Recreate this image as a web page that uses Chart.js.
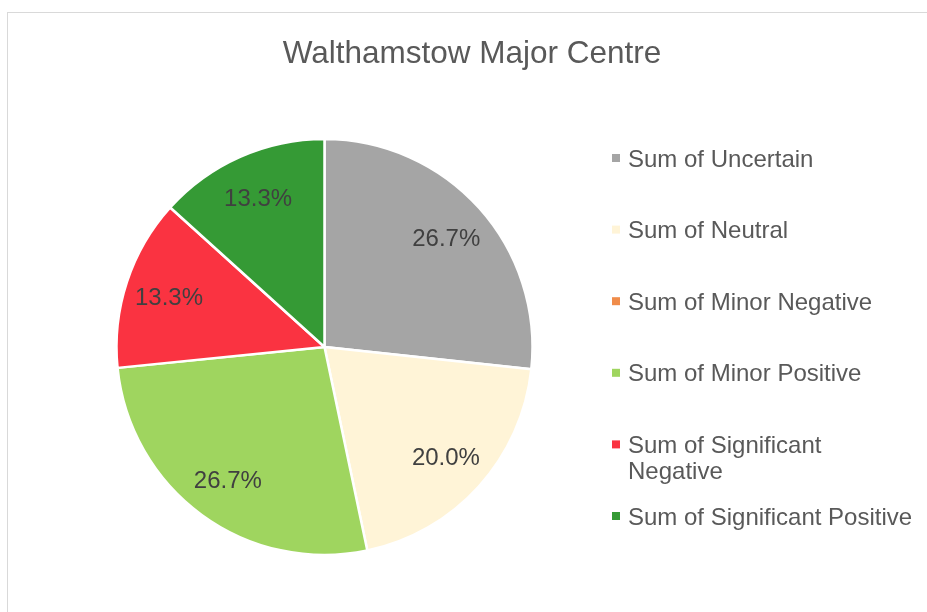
<!DOCTYPE html>
<html>
<head>
<meta charset="utf-8">
<script src="https://cdn.jsdelivr.net/npm/chart.js@4.4.1/dist/chart.umd.min.js"></script>
<style>
  html, body { margin: 0; padding: 0; background: #fff; overflow: hidden; }
  body { width: 927px; height: 612px; position: relative; }
  #marco { position: absolute; left: 7px; top: 12px; width: 960px; height: 640px; border: 1px solid #d9d9d9; box-sizing: border-box; }
  #grafico { position: absolute; left: 0; top: 0; }
</style>
</head>
<body>
<div id="marco"></div>
<canvas id="grafico" width="945" height="612"></canvas>
<script>
// --- Datos ---
const titulo = "Walthamstow Major Centre";
const categorias = [
  "Sum of Uncertain",
  "Sum of Neutral",
  "Sum of Minor Negative",
  "Sum of Minor Positive",
  "Sum of Significant Negative",
  "Sum of Significant Positive"
];
const valores = [26.7, 20.0, 0, 26.7, 13.3, 13.3];
const colores = ["#a5a5a5", "#fff4d7", "#f08c4a", "#9fd55f", "#fa3341", "#359a35"];

const FUENTE = "'Liberation Sans', Arial, sans-serif";

// titulo dibujado a mano, centrado sobre el marco
const pluginTitulo = {
  id: "tituloExcel",
  afterDraw(chart) {
    const ctx = chart.ctx;
    ctx.save();
    ctx.font = `31.5px ${FUENTE}`;
    ctx.fillStyle = "#595959";
    ctx.textAlign = "center";
    ctx.textBaseline = "alphabetic";
    ctx.fillText(titulo, 472, 63);
    ctx.restore();
  }
};

// etiquetas de porcentaje dentro de cada sector
const pluginPorcentajes = {
  id: "porcentajes",
  afterDatasetsDraw(chart) {
    const ctx = chart.ctx;
    const meta = chart.getDatasetMeta(0);
    const total = valores.reduce((a, b) => a + b, 0);
    ctx.save();
    ctx.font = `24px ${FUENTE}`;
    ctx.fillStyle = "#404040";
    ctx.textAlign = "center";
    ctx.textBaseline = "middle";
    meta.data.forEach((arc, i) => {
      if (!valores[i]) return;
      const p = arc.getProps(["x", "y", "startAngle", "endAngle", "outerRadius"], true);
      const medio = (p.startAngle + p.endAngle) / 2;
      const r = p.outerRadius * 0.787;
      const texto = (valores[i] / total * 100).toFixed(1) + "%";
      ctx.fillText(texto, p.x + Math.cos(medio) * r, p.y + Math.sin(medio) * r + 2);
    });
    ctx.restore();
  }
};

// leyenda a la derecha, con salto de linea como en Excel
const pluginLeyenda = {
  id: "leyendaExcel",
  afterDraw(chart) {
    const ctx = chart.ctx;
    const x0 = 612, xTexto = 628, y0 = 158, paso = 71.6, alto = 26, anchoMax = 288;
    ctx.save();
    ctx.font = `24px ${FUENTE}`;
    ctx.textBaseline = "middle";
    categorias.forEach((cat, i) => {
      const y = y0 + i * paso;
      ctx.fillStyle = colores[i];
      ctx.fillRect(x0, y - 4, 8, 8);
      // partir en lineas
      const palabras = cat.split(" ");
      const lineas = [];
      let linea = "";
      palabras.forEach(p => {
        const prueba = linea ? linea + " " + p : p;
        if (ctx.measureText(prueba).width > anchoMax && linea) {
          lineas.push(linea);
          linea = p;
        } else {
          linea = prueba;
        }
      });
      lineas.push(linea);
      ctx.fillStyle = "#595959";
      lineas.forEach((l, j) => ctx.fillText(l, xTexto, y + 2 + j * alto));
    });
    ctx.restore();
  }
};

const ctx = document.getElementById("grafico").getContext("2d");
new Chart(ctx, {
  type: "pie",
  data: {
    labels: categorias,
    datasets: [{
      data: valores,
      backgroundColor: colores,
      borderColor: "#ffffff",
      borderWidth: 2.5,
      radius: 208
    }]
  },
  options: {
    responsive: false,
    animation: false,
    layout: { padding: { left: 100, right: 396, top: 130, bottom: 48 } },
    plugins: {
      legend: { display: false },
      title: { display: false },
      tooltip: { enabled: false }
    }
  },
  plugins: [pluginTitulo, pluginPorcentajes, pluginLeyenda]
});
</script>
</body>
</html>
